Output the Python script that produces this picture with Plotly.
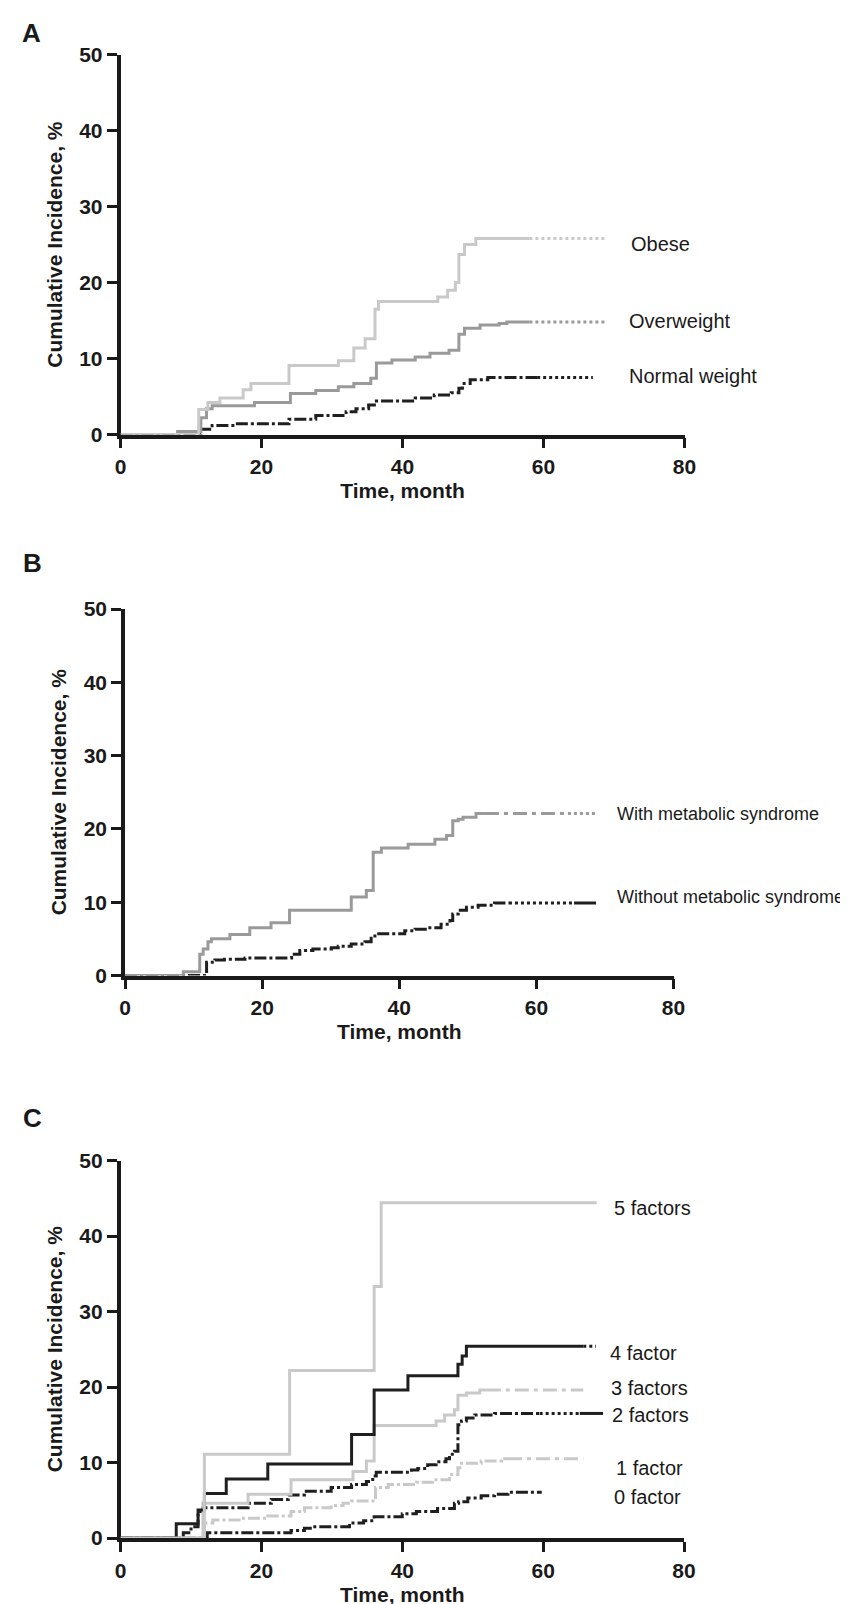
import plotly.graph_objects as go

W, H = 848, 1604

# ---------------- data (months, cumulative incidence %) ----------------
# Panel A
obese_t = [11.1, 12.4, 14.1, 17.4, 18.5, 23.9, 30.9, 33.1, 34.7, 36.1, 36.6, 45.0, 46.4, 47.5, 48.0, 48.8, 50.4]
obese_v = [3.3, 4.2, 4.8, 5.9, 6.7, 9.1, 9.7, 11.4, 12.6, 16.5, 17.5, 18.1, 19.0, 20.0, 23.7, 25.0, 25.8]
obese_solid_end, obese_end = 58.0, 69.0

over_t = [8.1, 11.4, 12.2, 13.0, 19.0, 24.1, 27.7, 30.9, 33.1, 35.5, 36.3, 38.5, 41.8, 43.9, 46.6, 48.0, 48.8, 51.0, 53.7, 54.8]
over_v = [0.4, 2.2, 3.4, 3.8, 4.2, 5.4, 5.8, 6.3, 6.7, 7.4, 9.4, 9.8, 10.2, 10.7, 11.1, 13.2, 14.0, 14.4, 14.6, 14.8]
over_solid_end, over_end = 58.0, 69.0

norm_t = [11.4, 13.0, 16.3, 23.9, 27.7, 32.0, 33.4, 35.2, 36.3, 41.8, 44.5, 46.9, 48.0, 48.5, 49.6, 52.1]
norm_v = [0.7, 1.2, 1.4, 2.0, 2.5, 3.0, 3.4, 3.9, 4.4, 4.8, 5.2, 5.5, 6.1, 6.7, 7.2, 7.5]
norm_solid_end, norm_end = 59.1, 67.0

# Panel B
ms_t = [8.5, 10.9, 11.4, 12.1, 12.6, 15.3, 18.2, 21.3, 24.0, 33.0, 35.2, 36.2, 37.4, 41.3, 45.2, 46.9, 47.8, 48.6, 49.3, 51.2]
ms_v = [0.5, 2.9, 3.6, 4.6, 5.0, 5.6, 6.5, 7.2, 8.9, 10.7, 11.6, 16.8, 17.4, 17.9, 18.6, 19.1, 21.1, 21.3, 21.6, 22.1]
ms_solid_end, ms_dash_end, ms_end = 52.5, 64.6, 68.7

noms_t = [11.9, 13.1, 14.5, 17.5, 24.3, 25.5, 27.4, 30.1, 31.1, 33.0, 35.0, 35.9, 36.7, 40.8, 42.3, 44.2, 46.1, 47.4, 47.8, 48.6, 49.8, 51.5, 53.9]
noms_v = [1.8, 2.1, 2.2, 2.4, 2.9, 3.4, 3.6, 3.8, 4.0, 4.3, 4.6, 5.4, 5.7, 6.1, 6.3, 6.5, 7.0, 7.5, 8.4, 8.9, 9.3, 9.6, 9.9]
noms_solid_end, noms_dot_end, noms_end = 56.0, 65.5, 68.7

# Panel C
f5_t = [11.9, 24.0, 36.0, 37.0]
f5_v = [11.1, 22.2, 33.3, 44.4]
f5_end = 67.6

f4_t = [7.9, 11.0, 11.9, 15.0, 20.9, 32.8, 36.0, 40.8, 47.9, 48.5, 49.1]
f4_v = [1.9, 3.7, 5.9, 7.8, 9.8, 13.7, 19.6, 21.5, 23.0, 24.1, 25.4]
f4_solid_end, f4_end = 65.7, 67.5

f3_t = [11.7, 18.1, 24.2, 33.0, 34.9, 36.0, 44.8, 46.0, 47.4, 47.9, 49.1, 51.0]
f3_v = [4.6, 5.8, 7.7, 8.8, 10.2, 14.9, 15.5, 16.3, 17.0, 18.9, 19.2, 19.6]
f3_solid_end, f3_end = 52.0, 65.7

f2_t = [8.9, 10.0, 11.0, 11.7, 18.1, 21.4, 23.8, 26.1, 29.9, 32.8, 34.9, 35.8, 36.3, 41.3, 42.2, 43.6, 44.8, 46.2, 46.7, 47.4, 47.9, 48.4, 49.1, 50.3, 53.1]
f2_v = [0.7, 1.5, 3.5, 4.0, 4.6, 5.1, 5.7, 6.2, 6.7, 7.1, 7.5, 8.2, 8.7, 9.0, 9.2, 9.7, 10.1, 10.5, 11.1, 11.5, 15.0, 15.5, 15.9, 16.3, 16.5]
f2_solid_end, f2_dot_end, f2_end = 59.5, 65.2, 68.5

f1_t = [11.9, 13.1, 17.1, 20.9, 24.2, 26.1, 29.9, 31.6, 32.8, 36.2, 38.0, 42.0, 44.3, 46.7, 47.9, 48.4, 51.2, 54.1]
f1_v = [2.0, 2.4, 2.6, 2.9, 3.5, 4.0, 4.3, 4.6, 4.9, 6.7, 7.1, 7.4, 7.7, 8.4, 9.3, 9.9, 10.2, 10.5]
f1_solid_end, f1_end = 55.0, 65.7

f0_t = [12.3, 24.2, 26.1, 27.3, 32.5, 34.5, 36.0, 40.0, 42.0, 45.0, 47.4, 48.0, 49.3, 51.2, 53.1, 55.0]
f0_v = [0.7, 1.0, 1.3, 1.5, 2.0, 2.3, 2.8, 3.2, 3.5, 3.9, 4.6, 4.8, 5.3, 5.6, 5.8, 6.05]
f0_end = 59.8

x_ticks = [0, 20, 40, 60, 80]
y_ticks = [0, 10, 20, 30, 40, 50]

# ---------------- styling ----------------
LIGHT = "#c9c9c9"
MID = "#9a9a9a"
DARK = "#1f1f1f"
AX = "#1a1a1a"
DASHDOT = "12px,3px,3px,3px"
LDASHDOT = "14px,5px,4px,5px"
TICKFONT = dict(family="Liberation Sans, Arial, sans-serif", size=21, color=AX, weight="bold")
TITLEFONT = dict(family="Liberation Sans, Arial, sans-serif", size=21, color=AX, weight="bold")
LABELFONT = dict(family="Liberation Sans, Arial, sans-serif", size=20, color=AX)

fig = go.Figure()


def step_curve(t, v, end, color, dash, ax, width=3.0):
    xs = [0] + list(t) + [end]
    ys = [0] + list(v) + [v[-1]]
    fig.add_trace(go.Scatter(x=xs, y=ys, mode="lines", line=dict(shape="hv", color=color, width=width, dash=dash),
                             xaxis="x" + ax, yaxis="y" + ax, showlegend=False, hoverinfo="skip"))


def tail(x0, x1, val, color, dash, ax, width=3.0):
    fig.add_trace(go.Scatter(x=[x0, x1], y=[val, val], mode="lines",
                             line=dict(color=color, width=width, dash=dash),
                             xaxis="x" + ax, yaxis="y" + ax, showlegend=False, hoverinfo="skip"))


# Panel A (axes "" -> x / y)
step_curve(norm_t, norm_v, norm_solid_end, DARK, DASHDOT, "")
tail(norm_solid_end, norm_end, norm_v[-1], DARK, "dot", "")
step_curve(over_t, over_v, over_solid_end, MID, "solid", "")
tail(over_solid_end, over_end, over_v[-1], MID, "dot", "")
step_curve(obese_t, obese_v, obese_solid_end, LIGHT, "solid", "")
tail(obese_solid_end, obese_end, obese_v[-1], LIGHT, "dot", "")

# Panel B
step_curve(noms_t, noms_v, noms_solid_end, DARK, DASHDOT, "2")
tail(noms_solid_end, noms_dot_end, noms_v[-1], DARK, "dot", "2")
tail(noms_dot_end, noms_end, noms_v[-1], DARK, "solid", "2")
step_curve(ms_t, ms_v, ms_solid_end, MID, "solid", "2")
tail(ms_solid_end, ms_dash_end, ms_v[-1], MID, LDASHDOT, "2")
tail(ms_dash_end, ms_end, ms_v[-1], MID, "dot", "2")

# Panel C
step_curve(f0_t, f0_v, f0_end, DARK, DASHDOT, "3")
step_curve(f1_t, f1_v, f1_solid_end, LIGHT, DASHDOT, "3")
tail(f1_solid_end, f1_end, f1_v[-1], LIGHT, LDASHDOT, "3")
step_curve(f2_t, f2_v, f2_solid_end, DARK, DASHDOT, "3")
tail(f2_solid_end, f2_dot_end, f2_v[-1], DARK, "dot", "3")
tail(f2_dot_end, f2_end, f2_v[-1], DARK, "solid", "3")
step_curve(f3_t, f3_v, f3_solid_end, LIGHT, "solid", "3")
tail(f3_solid_end, f3_end, f3_v[-1], LIGHT, LDASHDOT, "3")
step_curve(f4_t, f4_v, f4_solid_end, DARK, "solid", "3")
tail(f4_solid_end, f4_end, f4_v[-1], DARK, "dot", "3")
step_curve(f5_t, f5_v, f5_end, LIGHT, "solid", "3")


def fx(px):
    return px / W


def fy(py):
    return 1 - py / H


def axes(x0, x1, y0, y1):
    xa = dict(domain=[fx(x0), fx(x1)], range=[0, 80], tickvals=x_ticks, ticks="outside", ticklen=10,
              tickwidth=3, tickcolor=AX, showline=True, linewidth=3.5, linecolor=AX, showgrid=False,
              zeroline=False, tickfont=TICKFONT, ticklabelstandoff=1, automargin=False, layer="below traces",
              fixedrange=True,
              title=dict(text="Time, month", font=TITLEFONT, standoff=7))
    ya = dict(domain=[fy(y0), fy(y1)], range=[0, 50], tickvals=y_ticks, ticks="outside", ticklen=10,
              tickwidth=3, tickcolor=AX, showline=True, linewidth=3.5, linecolor=AX, showgrid=False,
              zeroline=False, tickfont=TICKFONT, ticklabelstandoff=0, automargin=False, layer="below traces",
              fixedrange=True,
              title=dict(text="Cumulative Incidence, %", font=TITLEFONT, standoff=12))
    return xa, ya


xa1, ya1 = axes(112.5, 676.5, 426.5, 46.7)
xa2, ya2 = axes(117.0, 665.5, 967.5, 601.0)
xa3, ya3 = axes(112.6, 676.0, 1530.0, 1152.5)
xa2["anchor"], ya2["anchor"] = "y2", "x2"
xa3["anchor"], ya3["anchor"] = "y3", "x3"
xa1["anchor"], ya1["anchor"] = "y", "x"

annotations = []


def label(text, px, py, size=20, bold=False, xanchor="left"):
    f = dict(LABELFONT)
    f["size"] = size
    if bold:
        f["weight"] = "bold"
    annotations.append(dict(text=text, x=fx(px), y=fy(py), xref="paper", yref="paper", showarrow=False,
                            xanchor=xanchor, yanchor="middle", font=f))


label("A", 23, 25, size=26, bold=True, xanchor="center")
label("B", 24, 555, size=26, bold=True, xanchor="center")
label("C", 24, 1110, size=26, bold=True, xanchor="center")

label("Obese", 621, 236)
label("Overweight", 619, 313)
label("Normal weight", 619, 368)

label("With metabolic syndrome", 607, 806, size=18)
label("Without metabolic syndrome", 607, 889, size=18)

label("5 factors", 604, 1200)
label("4 factor", 600, 1345)
label("3 factors", 601, 1380)
label("2 factors", 602, 1407)
label("1 factor", 606, 1460)
label("0 factor", 604, 1489)

fig.update_layout(
    width=W, height=H, margin=dict(l=0, r=0, t=0, b=0),
    paper_bgcolor="white", plot_bgcolor="white",
    xaxis=xa1, yaxis=ya1, xaxis2=xa2, yaxis2=ya2, xaxis3=xa3, yaxis3=ya3,
    annotations=annotations, showlegend=False,
)

fig.write_html("out.html")
